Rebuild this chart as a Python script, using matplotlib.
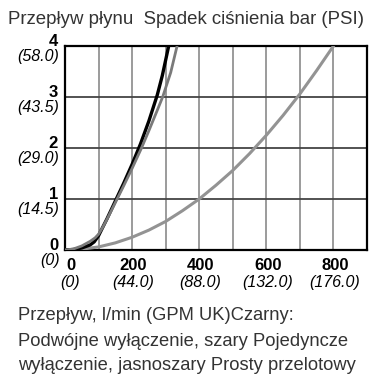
import matplotlib
matplotlib.use("Agg")
import matplotlib.pyplot as plt

# ---- data ----
x_ticks = [0, 200, 400, 600, 800]
x_tick_sub = ["(0)", "(44.0)", "(88.0)", "(132.0)", "(176.0)"]
y_ticks = [0, 1, 2, 3, 4]
y_tick_sub = ["(0)", "(14.5)", "(29.0)", "(43.5)", "(58.0)"]

# Black: double check (Podwójne wyłączenie)
flow_black = [0, 25, 50, 75, 87, 100, 112, 125, 150, 175, 200, 225, 250, 275, 290, 309]
dp_black = [0, 0.01, 0.04, 0.1, 0.16, 0.28, 0.44, 0.61, 0.96, 1.31, 1.68, 2.08, 2.53, 3.04, 3.42, 4.0]

# Gray: single check (Pojedyncze wyłączenie)
flow_gray = [0, 25, 50, 75, 90, 100, 112, 125, 150, 175, 200, 228, 250, 275, 291, 315, 334]
dp_gray = [0, 0.02, 0.08, 0.17, 0.24, 0.31, 0.44, 0.6, 0.93, 1.26, 1.6, 2.0, 2.34, 2.74, 3.0, 3.48, 4.0]

# Light gray: straight through (Prosty przelotowy)
flow_light = [0, 50, 100, 150, 200, 250, 300, 350, 400, 450, 500, 550, 600, 650, 700, 750, 800, 810]
dp_light = [0, 0.016, 0.06, 0.14, 0.25, 0.39, 0.56, 0.77, 1.0, 1.27, 1.56, 1.89, 2.25, 2.64, 3.06, 3.52, 4.0, 4.1]

title_text = "Przepływ płynu  Spadek ciśnienia bar (PSI)"
caption_lines = ["Przepływ, l/min (GPM UK)Czarny:",
                 "Podwójne wyłączenie, szary Pojedyncze",
                 "wyłączenie, jasnoszary Prosty przelotowy"]

plt.rcParams['font.family'] = ['Liberation Sans', 'DejaVu Sans']

W, H = 376, 389
fig = plt.figure(figsize=(W / 100, H / 100), dpi=100)
ax = fig.add_axes([65 / W, 1 - 250 / H, (367 - 65) / W, (250 - 46) / H])

ax.set_xlim(0, 900)
ax.set_ylim(0, 4)

# grid
for xv in range(100, 900, 100):
    ax.axvline(xv, color="#808080", lw=1.1, zorder=1)
for yv in [1, 2, 3]:
    ax.axhline(yv, color="#444444", lw=1.3, zorder=1)

ax.plot(flow_light, dp_light, color="#939393", lw=2.2, zorder=3,
        solid_capstyle="round", solid_joinstyle="round")
ax.plot(flow_black, dp_black, color="#000000", lw=2.4, zorder=4,
        solid_capstyle="round", solid_joinstyle="round")
ax.plot(flow_gray, dp_gray, color="#7a7a7a", lw=2.0, zorder=5,
        solid_capstyle="round", solid_joinstyle="round")

for s in ax.spines.values():
    s.set_color("black")
    s.set_linewidth(1.6)

ax.set_xticks(x_ticks)
ax.set_yticks(y_ticks)
ax.tick_params(length=0, labelbottom=False, labelleft=False)

# y tick labels (bold value over italic PSI)
for yv, sub in zip(y_ticks, y_tick_sub):
    ax.annotate(str(yv), xy=(0, yv), xycoords=("axes fraction", "data"),
                xytext=(-5, 3.5), textcoords="offset points",
                ha="right", va="center", fontsize=12, fontweight="bold", color="black")
    ax.annotate(sub, xy=(0, yv), xycoords=("axes fraction", "data"),
                xytext=(-4, -7.5), textcoords="offset points",
                ha="right", va="center", fontsize=11.5, fontstyle="italic", color="black")

# x tick labels
for xv, sub in zip(x_ticks, x_tick_sub):
    dx = 4 if xv == 0 else 1
    ax.annotate(str(xv), xy=(xv, 0), xycoords=("data", "axes fraction"),
                xytext=(dx, -11), textcoords="offset points",
                ha="center", va="center", fontsize=12, fontweight="bold", color="black")
    ax.annotate(sub, xy=(xv, 0), xycoords=("data", "axes fraction"),
                xytext=(dx, -23.5), textcoords="offset points",
                ha="center", va="center", fontsize=11.5, fontstyle="italic", color="black")

fig.text(8 / W, 1 - 20 / H, title_text, ha="left", va="center", fontsize=13.4, color="#333333")
for i, line in enumerate(caption_lines):
    fig.text(18 / W, 1 - (316 + 25 * i) / H, line, ha="left", va="center",
             fontsize=13.2, color="#333333")

fig.savefig("out.png", dpi=100, facecolor="white")
